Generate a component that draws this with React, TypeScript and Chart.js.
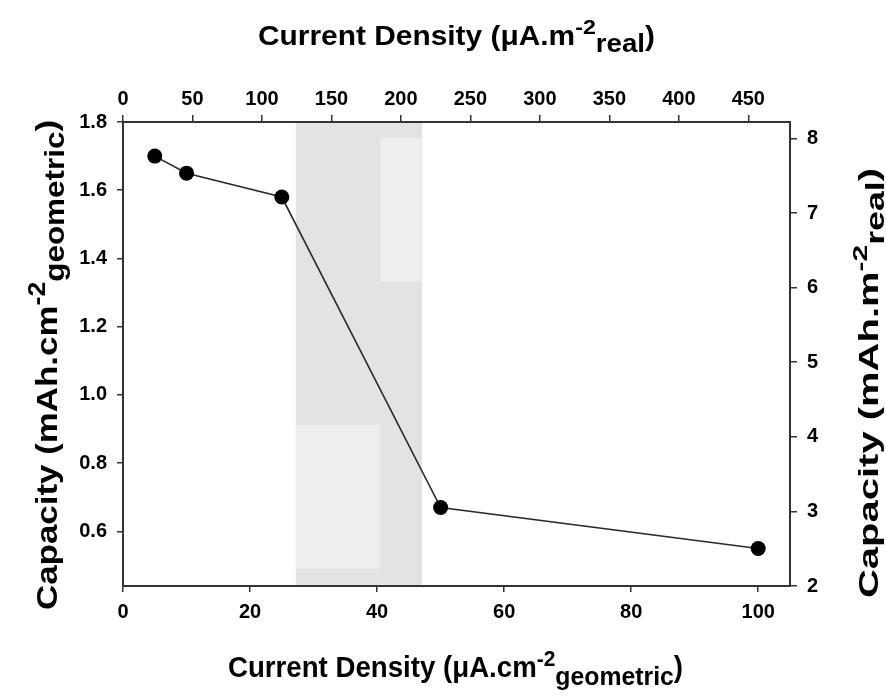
import React, { useEffect, useRef } from 'react';
import { Chart, registerables } from 'chart.js';

Chart.register(...registerables);

// ---- data ----
const currentGeometric = [5, 10, 25, 50, 100];
const capacityGeometric = [1.7, 1.65, 1.58, 0.67, 0.55];
const shadedBand = [27.2, 47.1];
const lightPatchX1 = [40.5, 47.1];
const lightPatchY1 = [1.332, 1.752];
const lightPatchX2 = [27.2, 40.5];
const lightPatchY2 = [0.491, 0.913];

const bottomRange = [0, 105];
const topRange = [0, 480];
const leftRange = [0.44, 1.8];
const rightRange = [2, 8.22];
const bottomStep = 20;
const topStep = 50;
const leftStep = 0.2;
const rightStep = 1;

const FONT = '"Liberation Sans", Arial, Helvetica, sans-serif';

type Seg = { t: string; s: number; dy?: number };

function drawRich(
  ctx: CanvasRenderingContext2D,
  segs: Seg[],
  x: number,
  y: number,
  rot: number,
  length: number
) {
  ctx.save();
  ctx.translate(x, y);
  ctx.rotate(rot);
  let W = 0;
  const ws = segs.map((sg) => {
    ctx.font = `bold ${sg.s}px ${FONT}`;
    const w = ctx.measureText(sg.t).width;
    W += w;
    return w;
  });
  ctx.scale(length / W, 1);
  ctx.fillStyle = '#000';
  ctx.textAlign = 'left';
  ctx.textBaseline = 'alphabetic';
  let cx = 0;
  segs.forEach((sg, i) => {
    ctx.font = `bold ${sg.s}px ${FONT}`;
    ctx.fillText(sg.t, cx, sg.dy || 0);
    cx += ws[i];
  });
  ctx.restore();
}

const shadePlugin = {
  id: 'shade',
  beforeDraw(chart: any) {
    const { ctx, chartArea, scales } = chart;
    const xs = scales.x;
    const ys = scales.y;
    ctx.save();
    ctx.fillStyle = '#e3e3e3';
    const x0 = xs.getPixelForValue(shadedBand[0]);
    const x1 = xs.getPixelForValue(shadedBand[1]);
    ctx.fillRect(x0, chartArea.top, x1 - x0, chartArea.bottom - chartArea.top);
    ctx.fillStyle = '#eeeeee';
    const patch = (px: number[], py: number[]) => {
      const a = xs.getPixelForValue(px[0]);
      const b = xs.getPixelForValue(px[1]);
      const c = ys.getPixelForValue(py[1]);
      const d = ys.getPixelForValue(py[0]);
      ctx.fillRect(a, c, b - a, d - c);
    };
    patch(lightPatchX1, lightPatchY1);
    patch(lightPatchX2, lightPatchY2);
    ctx.restore();
  },
};

const titlePlugin = {
  id: 'titles',
  afterDraw(chart: any) {
    const ctx = chart.ctx as CanvasRenderingContext2D;
    drawRich(
      ctx,
      [
        { t: 'Current Density (\u03bcA.m', s: 27 },
        { t: '-2', s: 21, dy: -11 },
        { t: 'real', s: 25, dy: 7 },
        { t: ')', s: 27 },
      ],
      258,
      45,
      0,
      397
    );
    drawRich(
      ctx,
      [
        { t: 'Current Density (\u03bcA.cm', s: 29 },
        { t: '-2', s: 22, dy: -11 },
        { t: 'geometric', s: 26, dy: 8 },
        { t: ')', s: 29 },
      ],
      228,
      677,
      0,
      455
    );
    drawRich(
      ctx,
      [
        { t: 'Capacity (mAh.cm', s: 30 },
        { t: '-2', s: 23, dy: -12 },
        { t: 'geometric', s: 27, dy: 7 },
        { t: ')', s: 30 },
      ],
      57,
      610,
      -Math.PI / 2,
      490
    );
    drawRich(
      ctx,
      [
        { t: 'Capacity (mAh.m', s: 28 },
        { t: '-2', s: 21, dy: -11 },
        { t: 'real', s: 25, dy: 6 },
        { t: ')', s: 28 },
      ],
      878,
      598,
      -Math.PI / 2,
      430
    );
  },
};

function axis(
  position: string,
  range: number[],
  step: number,
  size: number,
  tickLength: number,
  padding: number,
  fmt?: (v: number) => string
) {
  return {
    type: 'linear',
    position,
    min: range[0],
    max: range[1],
    grid: {
      drawOnChartArea: false,
      drawTicks: true,
      tickLength,
      color: '#333',
      lineWidth: 1.5,
    },
    border: { display: true, color: '#333', width: 2 },
    ticks: {
      stepSize: step,
      includeBounds: false,
      color: '#000',
      padding,
      maxRotation: 0,
      autoSkip: false,
      font: { family: FONT, size: 20, weight: 'bold' },
      callback: (v: number) => (fmt ? fmt(v) : String(Math.round(v))),
    },
    afterFit: (s: any) => {
      if (position === 'left' || position === 'right') s.width = size;
      else s.height = size;
    },
  };
}

export default function App() {
  const ref = useRef<HTMLCanvasElement>(null);
  useEffect(() => {
    const canvas = ref.current!;
    const chart = new Chart(canvas, {
      type: 'line',
      data: {
        datasets: [
          {
            data: currentGeometric.map((x, i) => ({ x, y: capacityGeometric[i] })),
            xAxisID: 'x',
            yAxisID: 'y',
            borderColor: '#2a2a2a',
            borderWidth: 1.6,
            pointRadius: 7.5,
            pointBackgroundColor: '#000',
            pointBorderColor: '#000',
            pointBorderWidth: 0,
            tension: 0,
            fill: false,
          },
        ],
      },
      options: {
        animation: false,
        responsive: false,
        devicePixelRatio: 1,
        layout: { padding: 0 },
        plugins: {
          legend: { display: false },
          tooltip: { enabled: false },
          title: { display: false },
        },
        scales: {
          x: axis('bottom', bottomRange, bottomStep, 110, 6, 8) as any,
          x2: axis('top', topRange, topStep, 122, 7, 4) as any,
          y: axis('left', leftRange, leftStep, 123, 6, 10, (v) => v.toFixed(1)) as any,
          y2: axis('right', rightRange, rightStep, 96, 7, 10) as any,
        },
      },
      plugins: [shadePlugin, titlePlugin],
    } as any);
    return () => chart.destroy();
  }, []);
  return (
    <div style={{ position: 'fixed', left: 0, top: 0, width: 886, height: 696, background: '#fff' }}>
      <canvas ref={ref} width={886} height={696} style={{ display: 'block', width: 886, height: 696 }} />
    </div>
  );
}
